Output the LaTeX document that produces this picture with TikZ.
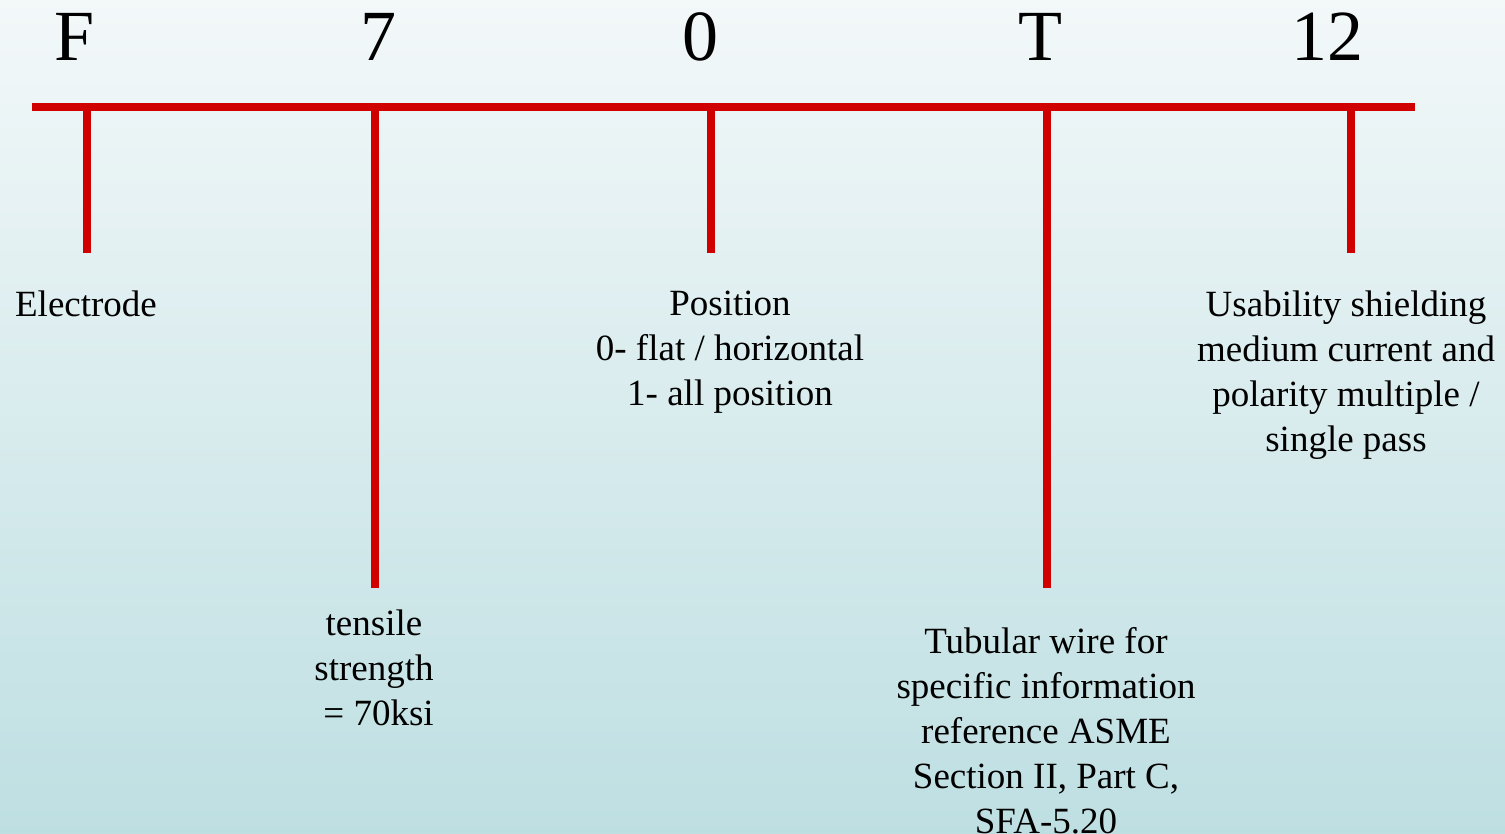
\documentclass[tikz,border=0pt]{standalone}
\usepackage{fontspec}
\setmainfont{Liberation Serif}
\begin{document}
\begin{tikzpicture}[x=1pt,y=-1pt,
  bar/.style={draw=barred,line width=7.5pt},
  code/.style={inner sep=0pt,anchor=base,font=\fontsize{72}{80}\selectfont},
  note/.style={inner sep=0pt,anchor=north,align=center,font=\fontsize{37}{45}\selectfont}]
\definecolor{barred}{HTML}{D10000}
\definecolor{bgtop}{HTML}{F3F8F9}
\definecolor{bgbot}{HTML}{BEDFE2}
% background
\shade[top color=bgtop,bottom color=bgbot] (0,0) rectangle (1505,833);
\useasboundingbox (0,0) rectangle (1505,833);
% designation characters
\node[code] (cF) at (75,60) {F};
\node[code] (c7) at (378,60) {7};
\node[code] (c0) at (700,60) {0};
\node[code] (cT) at (1040,60) {T};
\node[code] (c12) at (1327,60) {12};
% main bar and ticks
\coordinate (barL) at (32,107);
\coordinate (barR) at (1415,107);
\coordinate (tF) at (87,107);   \coordinate (bF) at (87,253);
\coordinate (t7) at (375,107);  \coordinate (b7) at (375,588);
\coordinate (t0) at (711,107);  \coordinate (b0) at (711,253);
\coordinate (tT) at (1047,107); \coordinate (bT) at (1047,588);
\coordinate (t12) at (1351,107);\coordinate (b12) at (1351,253);
\draw[bar] (barL) -- (barR);
\foreach \k in {F,7,0,T,12} \draw[bar] (t\k) -- (b\k);
% explanations
\node[note] (nF) at (86,291) {Electrode};
\node[note] (n7) at (374,610) {tensile\\strength\\\ = 70ksi};
\node[note] (n0) at (730,291) {Position\\0- flat / horizontal\\1- all position};
\node[note] (nT) at (1046,627) {Tubular wire for\\specific information\\reference ASME\\Section II, Part C,\\SFA-5.20};
\node[note] (n12) at (1346,291) {Usability shielding\\medium current and\\polarity multiple /\\single pass};
\end{tikzpicture}
\end{document}
